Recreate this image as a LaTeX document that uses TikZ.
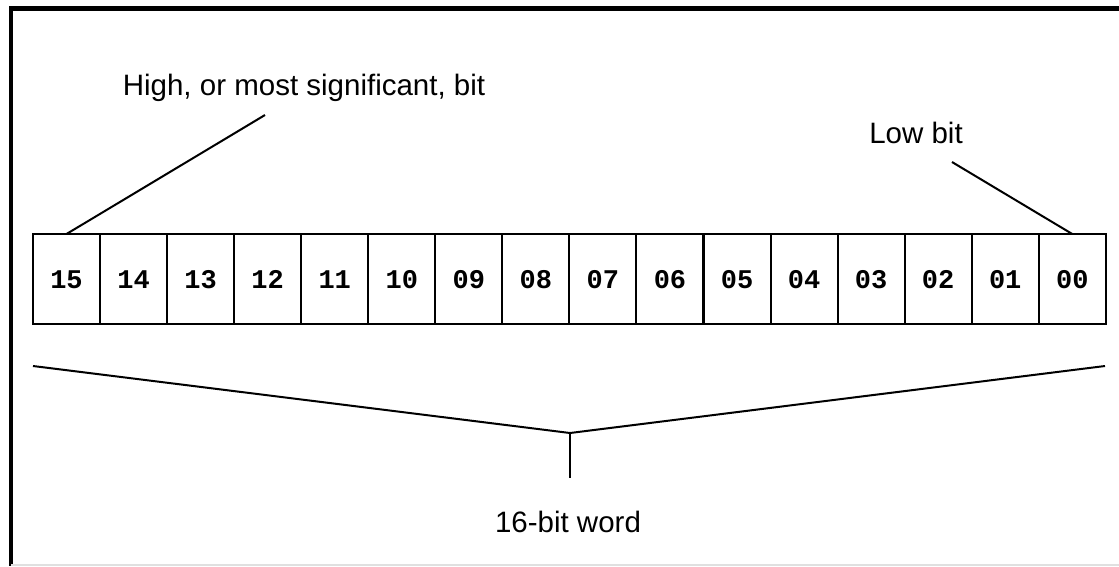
\documentclass[tikz,border=0pt]{standalone}
\usepackage{fontspec}
\setmainfont{Liberation Sans}
\newfontfamily\monobold{Liberation Mono}
\begin{document}
\begin{tikzpicture}[x=1pt,y=-1pt,
  cell/.style={draw, line width=2pt, minimum width=67pt, minimum height=90pt, inner sep=0pt, outer sep=0pt,
    text height=18pt, text depth=0pt,
    font=\monobold\bfseries\fontsize{27}{27}\selectfont, anchor=north west},
  lbl/.style={font=\fontsize{29.5}{32}\selectfont, inner sep=0pt},
  conn/.style={line width=2pt}]
\useasboundingbox (0,0) rectangle (1119,566);
\fill[white] (0,0) rectangle (1119,566);
% frame
\draw[line width=5pt] (11,8.5) -- (1119,8.5);
\draw[line width=4pt] (11,6) -- (11,566);
\draw[line width=2pt, black!12] (11,565) -- (1119,565);
% cells
\foreach \i/\t in {0/15,1/14,2/13,3/12,4/11,5/10,6/09,7/08,8/07,9/06,10/05,11/04,12/03,13/02,14/01,15/00}{
  \node[cell] (c\t) at ({33+\i*67.05},234) {\t};
}
% labels
\node[lbl] (high) at (304,88) {High, or most significant, bit};
\node[lbl] (low) at (916,133) {Low bit};
\node[lbl] (word) at (568,522) {16-bit word};
\coordinate (hA) at (265,115);
\coordinate (lA) at (952,162);
\draw[conn] (hA) -- (c15.north);
\draw[conn] (lA) -- (c00.north);
% bracket
\coordinate (bl) at (33,366);
\coordinate (br) at (1105,366);
\coordinate (apex) at (570,433);
\coordinate (stem) at (570,478);
\draw[conn] (bl) -- (apex) -- (br);
\draw[conn] (apex) -- (stem);
\end{tikzpicture}
\end{document}
